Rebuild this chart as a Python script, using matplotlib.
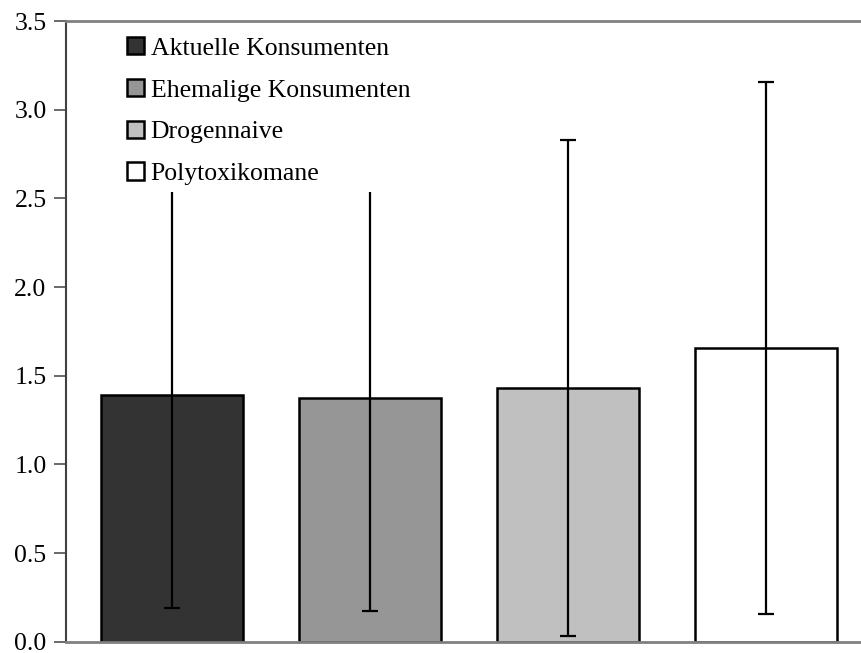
import matplotlib
matplotlib.use("Agg")
import matplotlib.pyplot as plt
from matplotlib.patches import Rectangle, Patch

# Group means and standard deviations
groups = ["Aktuelle Konsumenten", "Ehemalige Konsumenten", "Drogennaive", "Polytoxikomane"]
means = [1.39, 1.375, 1.43, 1.655]
sds = [1.20, 1.20, 1.40, 1.50]
colors = ["#333333", "#969696", "#c0c0c0", "#ffffff"]
yticks = [0.0, 0.5, 1.0, 1.5, 2.0, 2.5, 3.0, 3.5]

plt.rcParams["font.family"] = ["Liberation Serif", "DejaVu Serif"]
fs = 18.5

fig = plt.figure(figsize=(8.62, 6.53), dpi=100)
ax = fig.add_axes([66 / 862, (653 - 641.7) / 653, (862 - 66) / 862, (641.7 - 21) / 653])

x = list(range(len(groups)))
ax.bar(x, means, width=0.72, color=colors, edgecolor="black", linewidth=1.8, zorder=2)
ax.errorbar(x, means, yerr=sds, fmt="none", ecolor="black", elinewidth=1.6,
            capsize=5.8, capthick=1.6, zorder=2.5)

ax.set_xlim(-0.535, 3.485)
ax.set_ylim(0, 3.5)
ax.set_yticks(yticks)
ax.set_yticklabels([f"{v:.1f}" for v in yticks], fontsize=fs)
ax.set_xticks([])
ax.tick_params(axis="y", direction="out", length=9, width=1.2, color="#505050", pad=5)

ax.spines["right"].set_visible(False)
ax.spines["top"].set_color("#808080")
ax.spines["top"].set_linewidth(2)
ax.spines["bottom"].set_color("#808080")
ax.spines["bottom"].set_linewidth(2)
ax.spines["left"].set_color("#404040")
ax.spines["left"].set_linewidth(1.5)
for sp in ax.spines.values():
    sp.set_zorder(6)

# White panel behind the legend
ax.add_patch(Rectangle((0, 2.535), 0.445, 3.5 - 2.535, transform=ax.get_yaxis_transform(),
                       facecolor="white", edgecolor="none", zorder=4))

handles = [Patch(facecolor=c, edgecolor="black", linewidth=1.8) for c in colors]
leg = ax.legend(handles, groups, loc="upper left", bbox_to_anchor=(0.077, 0.974),
                frameon=False, fontsize=fs, handlelength=0.66, handleheight=0.66,
                handletextpad=0.25, labelspacing=0.74, borderpad=0, borderaxespad=0)
leg.set_zorder(5)

fig.savefig("out.png", dpi=100)
